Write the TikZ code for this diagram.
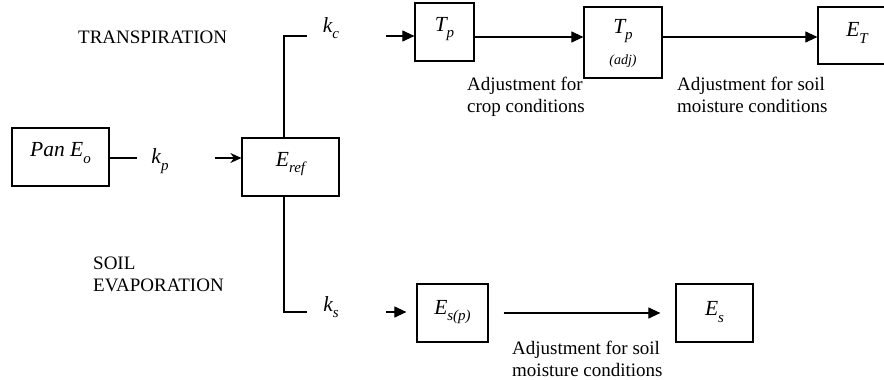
\documentclass[tikz,border=0pt]{standalone}
\usepackage{fontspec}
\setmainfont{Liberation Serif}
\usetikzlibrary{arrows.meta,calc}
\newcommand{\lo}[1]{\raisebox{-0.3em}{\fontsize{15}{15}\selectfont\itshape #1}}
\begin{document}
\begin{tikzpicture}[x=1pt,y=-1pt,
  every node/.style={font=\fontsize{19}{21.5}\selectfont},
  blk/.style={draw,line width=1.2pt,rectangle,inner sep=0pt},
  ln/.style={line width=1.1pt},
  arr/.style={line width=1.1pt,-{Triangle[length=12pt,width=11pt]}},
  sarr/.style={line width=1.1pt,-{Stealth[length=11pt,width=10pt]}},
  lbl/.style={inner sep=0pt,align=left,anchor=north west},
  sym/.style={inner sep=0pt,font=\fontsize{21.5}{24}\selectfont\itshape}]
\useasboundingbox (0,0) rectangle (884,380);
% boxes
\node[blk,minimum width=97pt,minimum height=58pt] (pan) at (60.5,157) {};
\node[sym] (pantxt) at (60.5,153) {Pan E\lo{o}};
\node[blk,minimum width=97pt,minimum height=58pt] (eref) at (290.5,167) {};
\node[sym] (ereftxt) at (290.5,164) {E\lo{ref}};
\node[blk,minimum width=59pt,minimum height=58pt] (tp) at (444.5,32) {};
\node[sym] (tptxt) at (444.5,29) {T\lo{p}};
\node[blk,minimum width=78pt,minimum height=71pt] (tpadj) at (623,42.5) {};
\node[sym] (tpadjtxt) at (623,31) {T\lo{p}};
\node[sym,font=\fontsize{14}{14}\selectfont\itshape] (adjtxt) at (623,61) {(adj)};
\node[blk,minimum width=90pt,minimum height=57pt] (et) at (863,35.5) {};
\node[sym] (ettxt) at (857,33) {E\lo{T}};
\node[blk,minimum width=71pt,minimum height=58pt] (esp) at (452.5,313) {};
\node[sym] (esptxt) at (452.5,312) {E\lo{s(p)}};
\node[blk,minimum width=77pt,minimum height=58pt] (es) at (714.5,313) {};
\node[sym] (estxt) at (714.5,312) {E\lo{s}};
% k labels
\node[sym] (kp) at (160,161) {k\lo{p}};
\node[sym] (kc) at (331,28) {k\lo{c}};
\node[sym] (ks) at (331,307) {k\lo{s}};
% coordinates
\coordinate (panR) at (137,158);
\coordinate (kpA) at (215,158);
\coordinate (cx) at (284,0);
\coordinate (kcL) at (307,36);
\coordinate (ksL) at (307,312);
\coordinate (kcA) at (386,36);
\coordinate (ksA) at (386,312);
\coordinate (y37) at (0,37);
% connectors
\draw[ln] (pan.east |- panR) -- (panR);
\draw[sarr] (kpA) -- (kpA -| eref.west);
\draw[ln] (eref.north -| cx) |- (kcL);
\draw[ln] (eref.south -| cx) |- (ksL);
\draw[arr] (kcA) -- (kcA -| tp.west);
\draw[arr] (tp.east |- y37) -- (y37 -| tpadj.west);
\draw[arr] (tpadj.east |- y37) -- (y37 -| et.west);
\draw[arr,shorten >=10pt] (ksA) -- (ksA -| esp.west);
\draw[arr,shorten <=15pt,shorten >=15pt] (esp.east) -- (es.west);
% text labels
\node[lbl] (l1) at (78,31) {TRANSPIRATION};
\node[lbl] (l2) at (93,257) {SOIL\\EVAPORATION};
\node[lbl] (l3) at (467,77) {Adjustment for\\crop conditions};
\node[lbl] (l4) at (677,77) {Adjustment for soil\\moisture conditions};
\node[lbl] (l5) at (512,341) {Adjustment for soil\\moisture conditions};
\end{tikzpicture}
\end{document}
